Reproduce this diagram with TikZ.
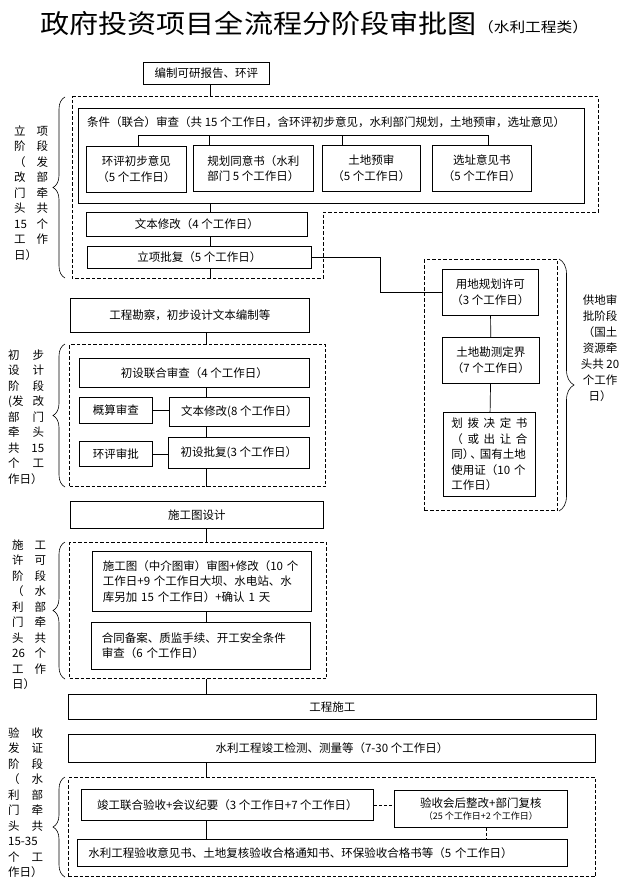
\documentclass[tikz,border=0pt]{standalone}
\usepackage{fontspec}
\setmainfont{Noto Sans CJK SC}
\newfontfamily\titlefont{Noto Sans CJK SC}[FakeStretch=1.12]
\usetikzlibrary{decorations.pathreplacing}

\begin{document}
\begin{tikzpicture}[x=1pt, y=-1pt,
    box/.style={draw, line width=0.8pt, inner sep=0pt, align=center, anchor=north west, font=\fontsize{11.5}{15.5}\selectfont},
    zone/.style={draw, line width=1pt, dash pattern=on 3.5pt off 2pt, inner sep=0pt, anchor=north west},
    link/.style={line width=0.7pt},
    lbrace/.style={decorate, decoration={brace, amplitude=12pt}, line width=0.6pt},
    rbrace/.style={decorate, decoration={brace, amplitude=15pt}, line width=0.6pt},
    stage/.style={anchor=north west, inner sep=0pt, align=left, font=\fontsize{11.5}{15.5}\selectfont}]
  \useasboundingbox (0,0) rectangle (631,880);
  \node[anchor=west, inner sep=0pt, font=\titlefont\fontsize{26}{26}\selectfont] (title) at (40,23.5) {政府投资项目全流程分阶段审批图};
  \node[anchor=west, inner sep=0pt, font=\titlefont\fontsize{14}{14}\selectfont] (subtitle) at (478,27) {（水利工程类）};
  \coordinate (sp1) at (210,0);
  \coordinate (sp2) at (206,0);
  \coordinate (sp3) at (486,0);

  \node[box, minimum width=126pt, minimum height=22pt] (bz) at (143,62) {编制可研报告、环评};
  \coordinate (r1nw) at (72,97);
  \coordinate (r1sw) at (72,278);
  \draw[zone] (r1nw) -- (598,97) -- (598,212) -- (323,212) -- (323,278) -- (r1sw) -- cycle;
  \node[box, minimum width=506pt, minimum height=95pt] (cond) at (78,108) {};
  \node[anchor=west, inner sep=0pt, font=\fontsize{11.5}{15.5}\selectfont] (condtxt) at (87,122) {条件（联合）审查（共 15 个工作日，含环评初步意见，水利部门规划，土地预审，选址意见）};
  \node[box, minimum width=100pt, minimum height=46pt] (s1) at (86,146) {环评初步意见\\（5 个工作日）};
  \node[box, align=left, minimum width=120pt, minimum height=46pt] (s2) at (193,145) {规划同意书（水利\\部门 5 个工作日）};
  \node[box, minimum width=98pt, minimum height=46pt] (s3) at (322,145) {土地预审\\（5 个工作日）};
  \node[box, minimum width=99pt, minimum height=46pt] (s4) at (432,145) {选址意见书\\（5 个工作日）};
  \coordinate (barl) at (138,135);
  \coordinate (barr) at (488,135);
  \draw[link] (barl) -- (barr);
  \foreach \x/\n in {138/s1, 209/s2, 342/s3, 488/s4}
    \draw[link] (\x,135) -- (\x,135 |- \n.north);
  \node[box, minimum width=221pt, minimum height=24pt] (wb) at (86,212) {文本修改（4 个工作日）};
  \node[box, minimum width=224pt, minimum height=22pt] (lx) at (87,246) {立项批复（5 个工作日）};
  \draw[link] (bz.south -| sp1) -- (r1nw -| sp1);
  \draw[link] (cond.south -| sp1) -- (wb.north -| sp1);
  \draw[link] (wb.south -| sp1) -- (lx.north -| sp1);
  \draw[link] (lx.south -| sp1) -- (r1sw -| sp1);
  \draw[lbrace] ([xshift=-7pt]r1sw) -- ([xshift=-7pt]r1nw);
  \node[stage, text width=34pt] (lab1) at (14,125.5) {立\hfill 项\\阶\hfill 段\\（\hfill 发\\改\hfill 部\\门\hfill 牵\\头\hfill 共\\15\hfill 个\\工\hfill 作\\日）};

  \node[zone, minimum width=133pt, minimum height=251pt] (rg) at (424,259) {};
  \node[box, minimum width=96pt, minimum height=46pt] (yd) at (442,269) {用地规划许可\\（3 个工作日）};
  \node[box, minimum width=97pt, minimum height=46pt] (tc) at (442,337) {土地勘测定界\\（7 个工作日）};
  \node[box, align=left, text width=76pt, minimum width=92pt, minimum height=84pt] (hb) at (443,412) {划\hfill 拨\hfill 决\hfill 定\hfill 书\\（\hfill 或\hfill 出\hfill 让\hfill 合\\同）\kern-4pt、\kern-2pt国有土地\\使用证（10 个\\工作日）};
  \draw[link] (lx.east) -- ++(69,0) |- (yd.west);
  \draw[link] (yd) -- (tc);
  \draw[link] (tc) -- (hb);
  \draw[rbrace] ([xshift=1pt]rg.north east) -- ([xshift=1pt]rg.south east);
  \node[anchor=north, inner sep=0pt, align=center, font=\fontsize{11.5}{16}\selectfont] (lab5) at (600,294.5) {供地审\\批阶段\\（国土\\资源牵\\头共 20\\个工作\\日）};

  \node[box, minimum width=239pt, minimum height=34pt] (kc) at (70,298) {工程勘察，初步设计文本编制等};
  \node[zone, minimum width=256pt, minimum height=142pt] (r2) at (69,344) {};
  \node[box, minimum width=230pt, minimum height=29pt] (cs) at (79,358) {初设联合审查（4 个工作日）};
  \node[box, minimum width=73pt, minimum height=26pt] (gs) at (79,397) {概算审查};
  \node[box, minimum width=140pt, minimum height=29pt] (wx) at (169,397) {文本修改(8 个工作日）};
  \node[box, minimum width=73pt, minimum height=25pt] (hp) at (79,441) {环评审批};
  \node[box, minimum width=141pt, minimum height=31pt] (pf) at (168,437) {初设批复(3 个工作日）};
  \draw[link] (kc.south -| sp2) -- (r2.north -| sp2);
  \draw[link] (cs.south -| sp2) -- (wx.north -| sp2);
  \draw[link] (wx.south -| sp2) -- (pf.north -| sp2);
  \draw[link] (pf.south -| sp2) -- (r2.south -| sp2);
  \draw[link] (gs.east) -- (gs.east -| wx.west);
  \draw[link] (hp.east) -- (hp.east -| pf.west);
  \draw[lbrace] ([xshift=-4pt]r2.south west) -- ([xshift=-4pt]r2.north west);
  \node[stage, text width=36pt] (lab2) at (8,349.5) {初\hfill 步\\设\hfill 计\\阶\hfill 段\\(发\hfill 改\\部\hfill 门\\牵\hfill 头\\共\hfill 15\\个\hfill 工\\作日）};

  \node[box, minimum width=253pt, minimum height=27pt] (sg) at (70,501) {施工图设计};
  \node[zone, minimum width=257pt, minimum height=136pt] (r3) at (69,542) {};
  \node[box, align=left, text width=198pt, minimum width=219pt, minimum height=60pt] (st) at (92,551) {施工图（中介图审）审图+修改（10 个\\工作日+9 个工作日大坝、水电站、水\\库另加 15 个工作日）+确认 1 天};
  \node[box, align=left, text width=198pt, minimum width=219pt, minimum height=47pt] (ht) at (91,622) {合同备案、质监手续、开工安全条件\\审查（6 个工作日）};
  \draw[link] (sg.south -| sp2) -- (r3.north -| sp2);
  \draw[link] (st.south -| sp2) -- (ht.north -| sp2);
  \draw[lbrace] ([xshift=-4pt]r3.south west) -- ([xshift=-4pt]r3.north west);
  \node[stage, text width=34pt] (lab3) at (12,539.5) {施\hfill 工\\许\hfill 可\\阶\hfill 段\\（\hfill 水\\利\hfill 部\\门\hfill 牵\\头\hfill 共\\26\hfill 个\\工\hfill 作\\日）};

  \node[box, minimum width=528pt, minimum height=25pt] (gc) at (68,694) {工程施工};
  \draw[link] (r3.south -| sp2) -- (gc.north -| sp2);
  \node[box, minimum width=527pt, minimum height=28pt] (jc) at (68,734) {水利工程竣工检测、测量等（7-30 个工作日）};
  \node[zone, minimum width=527pt, minimum height=99pt] (r4) at (68,777) {};
  \node[box, minimum width=292pt, minimum height=31pt] (jy) at (81,789) {竣工联合验收+会议纪要（3 个工作日+7 个工作日）};
  \node[box, minimum width=173pt, minimum height=37pt] (zg) at (394,790) {验收会后整改+部门复核\\[-3pt]{\fontsize{9}{11}\selectfont（25 个工作日+2 个工作日）}};
  \node[box, align=left, text width=468pt, minimum width=490pt, minimum height=27pt] (ys) at (77,839) {水利工程验收意见书、土地复核验收合格通知书、环保验收合格书等（5 个工作日）};
  \draw[link] (jc.south -| sp2) -- (r4.north -| sp2);
  \draw[link] (jy.south -| sp2) -- (ys.north -| sp2);
  \draw[link, dash pattern=on 3pt off 2pt] (jy.east) -- (jy.east -| zg.west);
  \draw[link, dash pattern=on 3pt off 2pt] (zg.south -| sp3) -- (ys.north -| sp3);
  \draw[lbrace] ([xshift=-3pt]r4.south west) -- ([xshift=-3pt]r4.north west);
  \node[stage, text width=35pt] (lab4) at (8,727.5) {验\hfill 收\\发\hfill 证\\阶\hfill 段\\（\hfill 水\\利\hfill 部\\门\hfill 牵\\头\hfill 共\\15-35\\个\hfill 工\\作日）};
\end{tikzpicture}
\end{document}
